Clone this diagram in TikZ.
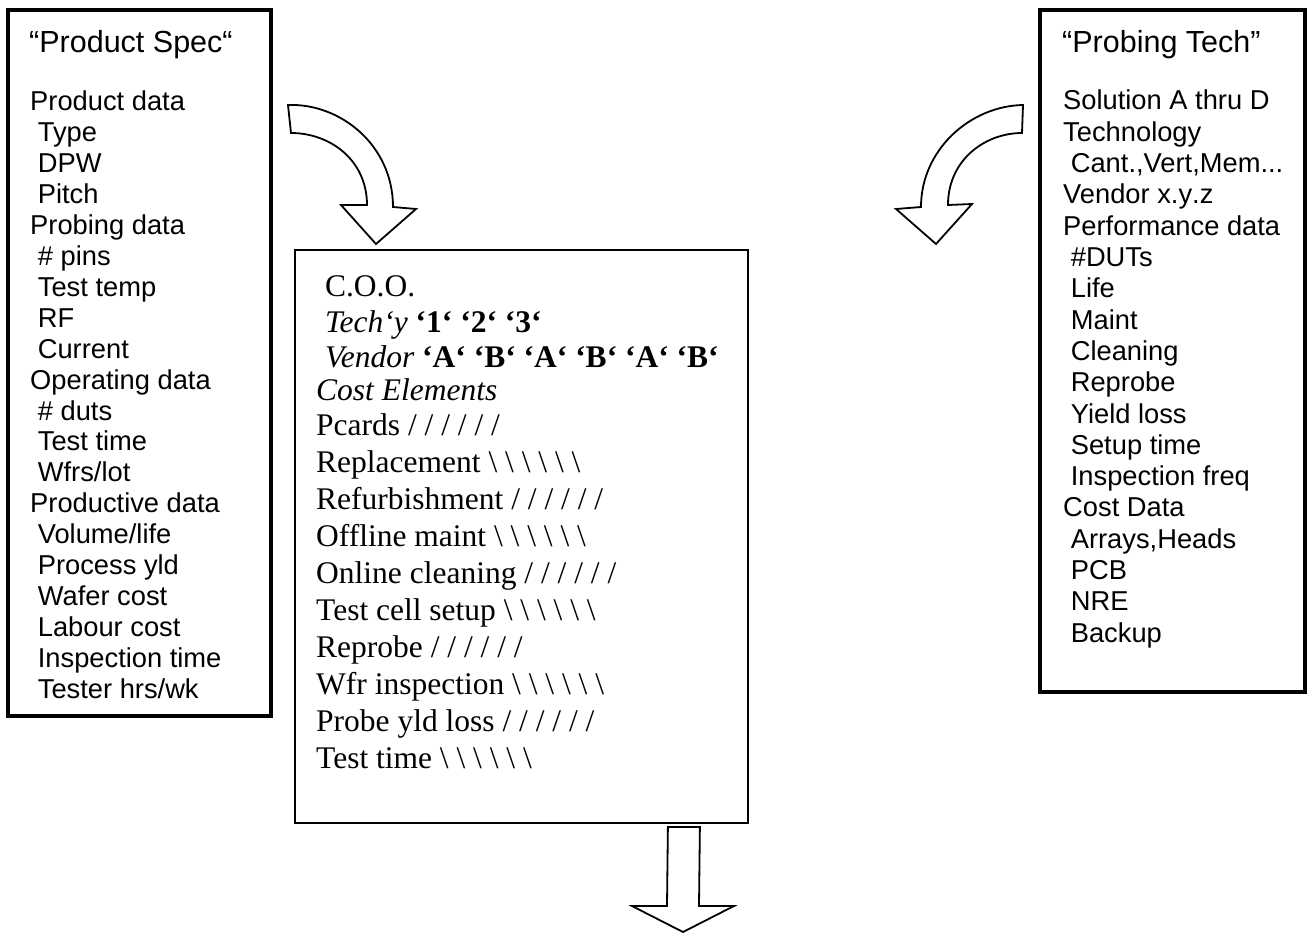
\documentclass[tikz,border=0pt]{standalone}
\usepackage{fontspec}
\usepackage{graphicx}
\setmainfont{Liberation Serif}
\newfontfamily\arialfont{Liberation Sans}
\newcommand{\bksl}{\reflectbox{/}}
\newcommand{\ind}{\hspace*{.28em}}
\newcommand{\tdots}{...}
\tikzset{
  sidebox/.style={draw, line width=4pt, inner sep=0pt, fill=white},
  midbox/.style={draw, line width=1.8pt, inner sep=0pt, fill=white},
  sanstxt/.style={anchor=base west, inner sep=0pt, font=\arialfont\fontsize{27.3}{31}\selectfont},
  sanstitle/.style={anchor=base west, inner sep=0pt, font=\arialfont\fontsize{30.5}{35}\selectfont},
  sertxt/.style={anchor=base west, inner sep=0pt, font=\fontsize{31.5}{36}\selectfont},
  blockarrow/.style={draw, line width=1.8pt, fill=white, line join=miter, miter limit=10},
}
\begin{document}
\begin{tikzpicture}[x=1pt,y=-1pt]
\useasboundingbox[fill=white] (0,0) rectangle (1307,933);

% boxes
\node[sidebox, minimum width=263pt, minimum height=706pt] (spec) at (139.5,363) {};
\node[sidebox, minimum width=265pt, minimum height=682pt] (tech) at (1172.5,351) {};
\node[midbox, minimum width=453pt, minimum height=573pt] (coo) at (521.5,536.5) {};

% left box text
\node[sanstitle] (spectitle) at (29,53) {“Product Spec“};
\foreach \t [count=\k from 0] in {
  Product data, \ind Type, \ind DPW, \ind Pitch,
  Probing data, \ind\# pins, \ind Test temp, \ind RF, \ind Current,
  Operating data, \ind\# duts, \ind Test time, \ind Wfrs/lot,
  Productive data, \ind Volume/life, \ind Process yld, \ind Wafer cost,
  \ind Labour cost, \ind Inspection time, \ind Tester hrs/wk}
  \node[sanstxt] (specl\k) at (30,111+30.9*\k) {\t};

% right box text
\node[sanstitle] (techtitle) at (1062,53) {“Probing Tech”};
\foreach \t [count=\k from 0] in {
  Solution A thru D, Technology, {\ind Cant.,Vert,Mem\tdots}, Vendor x\kern0pt.y\kern0pt.z,
  Performance data, \ind\#DUTs, \ind Life, \ind Maint, \ind Cleaning,
  \ind Reprobe, \ind Yield loss, \ind Setup time, \ind Inspection freq,
  Cost Data, {\ind Arrays,Heads}, \ind PCB, \ind NRE, \ind Backup}
  \node[sanstxt] (techl\k) at (1063,110+31.3*\k) {\t};

% centre box text
\node[sertxt] (c0) at (316,297) {\ind C.O.O.};
\node[sertxt] (c1) at (316,333) {\ind\textit{Tech‘y} \textbf{‘1‘ ‘2‘ ‘3‘}};
\node[sertxt] (c2) at (316,367) {\ind\textit{Vendor} \textbf{‘A‘ ‘B‘ ‘A‘ ‘B‘ ‘A‘ ‘B‘}};
\node[sertxt] (c3) at (316,400) {\textit{Cost Elements}};
\foreach \t [count=\k from 0] in {
  Pcards / / / / / /,
  Replacement \bksl\ \bksl\ \bksl\ \bksl\ \bksl\ \bksl,
  Refurbishment / / / / / /,
  Offline maint \bksl\ \bksl\ \bksl\ \bksl\ \bksl\ \bksl,
  Online cleaning / / / / / /,
  Test cell setup \bksl\ \bksl\ \bksl\ \bksl\ \bksl\ \bksl,
  Reprobe / / / / / /,
  Wfr inspection \bksl\ \bksl\ \bksl\ \bksl\ \bksl\ \bksl,
  Probe yld loss / / / / / /,
  Test time \bksl\ \bksl\ \bksl\ \bksl\ \bksl\ \bksl}
  \node[sertxt] (ce\k) at (316,435+37*\k) {\t};

% curved block arrow from Product Spec
\draw[blockarrow] (288,105) .. controls (340,103) and (393,145) .. (393,207)
  -- (416,209) -- (376,244) -- (341,205) -- (367,205)
  .. controls (367,160) and (330,133) .. (291,133) -- cycle;

% curved block arrow from Probing Tech
\draw[blockarrow] (1023,105) .. controls (970,106) and (921,150) .. (921,207)
  -- (896,209) -- (936,244) -- (972,204) -- (948,205)
  .. controls (948,160) and (985,133) .. (1022,133) -- cycle;

% down block arrow from C.O.O.
\coordinate (downtip) at (683,932);
\draw[blockarrow] ([xshift=-81pt,yshift=-3pt]coo.south east)
  -- (667,906) -- (632,906) -- (downtip) -- (734,906) -- (699,906)
  -- ([xshift=-49pt,yshift=-3pt]coo.south east) -- cycle;
\end{tikzpicture}
\end{document}
